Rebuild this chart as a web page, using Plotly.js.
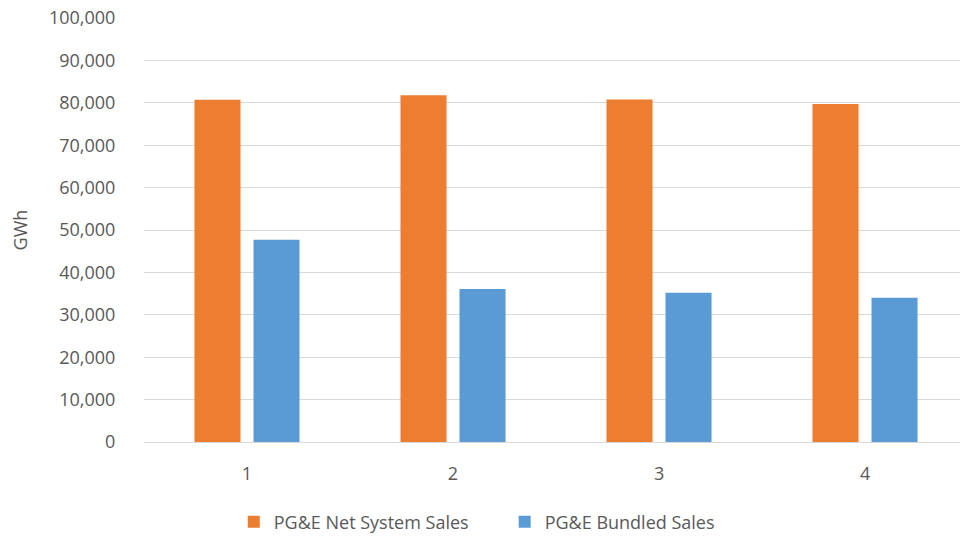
<!DOCTYPE html>
<html>
<head>
<meta charset="utf-8">
<script src="https://cdn.plot.ly/plotly-3.0.1.min.js"></script>
<style>
html,body{margin:0;padding:0;background:#fff;}
#chart{width:960px;height:537px;}
</style>
</head>
<body>
<div id="chart"></div>
<script>
const categories = [1, 2, 3, 4];
const netSystemSales = [80700, 81800, 80800, 79700];
const bundledSales = [47700, 36100, 35200, 34000];
const yTickVals = [0, 10000, 20000, 30000, 40000, 50000, 60000, 70000, 80000, 90000, 100000];
const seriesNames = ["PG&E Net System Sales", "PG&E Bundled Sales"];

const font = {family: "Open Sans, Noto Sans, sans-serif", size: 18, color: "#595959"};

const data = [
  {type: "bar", name: seriesNames[0], x: categories, y: netSystemSales, marker: {color: "#ED7D31"}, legend: "legend"},
  {type: "bar", name: seriesNames[1], x: categories, y: bundledSales, marker: {color: "#5B9BD5"}, legend: "legend2"}
];

const layout = {
  width: 960, height: 537,
  margin: {l: 144, r: 0, t: 18, b: 95, autoexpand: false},
  paper_bgcolor: "#fff", plot_bgcolor: "#fff",
  font: font,
  barmode: "group",
  bargap: 0.427,
  bargroupgap: 0.22,
  showlegend: true,
  legend: {orientation: "h", x: 0.110, xanchor: "left", y: -0.189, yanchor: "middle", font: font},
  legend2: {orientation: "h", x: 0.442, xanchor: "left", y: -0.189, yanchor: "middle", font: font},
  xaxis: {
    type: "linear", range: [0.5, 4.461], tickvals: categories, ticktext: categories.map(String),
    showgrid: false, zeroline: false, showline: true, linecolor: "#d9d9d9", linewidth: 1,
    ticks: "outside", ticklen: 15, tickcolor: "rgba(0,0,0,0)", tickfont: font, fixedrange: true
  },
  yaxis: {
    range: [0, 100000], tickvals: yTickVals, tickformat: ",d",
    showgrid: true, gridcolor: "#d9d9d9", gridwidth: 1, zeroline: false,
    ticks: "outside", ticklen: 24, tickcolor: "rgba(0,0,0,0)", tickfont: font,
    title: {text: "GWh", font: font, standoff: 16}, automargin: false
  }
};

Plotly.newPlot("chart", data, layout, {displayModeBar: false, staticPlot: true});
</script>
</body>
</html>
